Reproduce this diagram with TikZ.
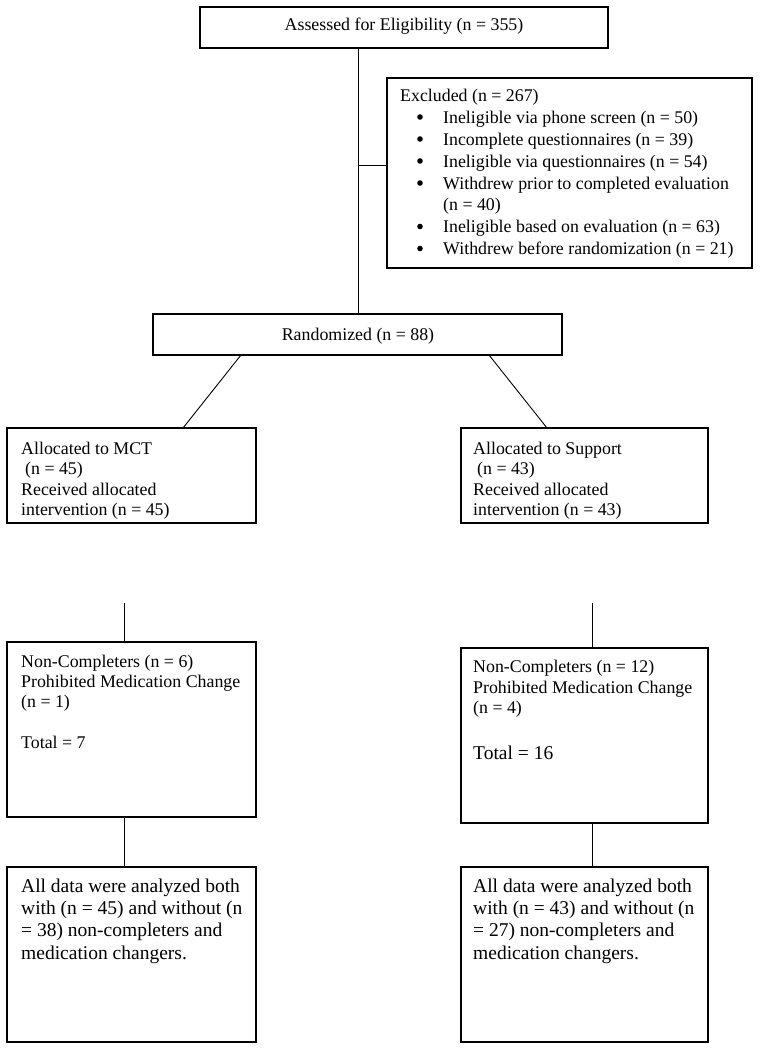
\documentclass[tikz,border=0pt]{standalone}
\usepackage{fontspec}
\setmainfont{Liberation Serif}
\begin{document}
\begin{tikzpicture}[x=1pt,y=-1pt,
  box/.style={draw, line width=1.1pt, inner sep=0pt, outer sep=0pt, anchor=north west},
  conn/.style={line width=0.9pt},
  tx/.style={anchor=base west, inner sep=0pt, font=\fontsize{17.85}{20}\selectfont},
  txl/.style={anchor=base west, inner sep=0pt, font=\fontsize{19.5}{22}\selectfont},
  txc/.style={anchor=base, inner sep=0pt, font=\fontsize{17.85}{20}\selectfont},
  bul/.style={circle, fill=black, inner sep=0pt, minimum size=5.6pt}]
\useasboundingbox (0,0) rectangle (760,1050);
% boxes
\node[box, minimum width=408pt, minimum height=41pt] (assess) at (200,7) {};
\node[box, minimum width=365pt, minimum height=190pt] (excl) at (387,78) {};
\node[box, minimum width=409pt, minimum height=41pt] (rand) at (153,314) {};
\node[box, minimum width=249pt, minimum height=95pt] (allocL) at (7,428) {};
\node[box, minimum width=247pt, minimum height=95pt] (allocR) at (461,428) {};
\node[box, minimum width=249pt, minimum height=175pt] (ncL) at (7,642) {};
\node[box, minimum width=247pt, minimum height=175pt] (ncR) at (461,648) {};
\node[box, minimum width=249pt, minimum height=175pt] (finL) at (7,867) {};
\node[box, minimum width=247pt, minimum height=175pt] (finR) at (461,867) {};
% texts
\node[txc] (tA) at (404,30) {Assessed for Eligibility (n = 355)};
\node[tx] (e0) at (400,101) {Excluded (n = 267)};
\node[bul] (b1) at (420,117) {};
\node[tx] (e1) at (443,123) {Ineligible via phone screen (n = 50)};
\node[bul] (b2) at (420,139) {};
\node[tx] (e2) at (443,145) {Incomplete questionnaires (n = 39)};
\node[bul] (b3) at (420,161) {};
\node[tx] (e3) at (443,167) {Ineligible via questionnaires (n = 54)};
\node[bul] (b4) at (420,183) {};
\node[tx] (e4) at (443,189) {Withdrew prior to completed evaluation};
\node[tx] (e5) at (443,210.5) {(n = 40)};
\node[bul] (b6) at (420,226.5) {};
\node[tx] (e6) at (443,232.5) {Ineligible based on evaluation (n = 63)};
\node[bul] (b7) at (420,248.5) {};
\node[tx] (e7) at (443,254.5) {Withdrew before randomization (n = 21)};
\node[txc] (tR) at (358,340) {Randomized (n = 88)};
\node[tx] (aL1) at (21,454) {Allocated to MCT};
\node[tx] (aL2) at (25,474.5) {(n = 45)};
\node[tx] (aL3) at (21,495) {Received allocated};
\node[tx] (aL4) at (21,515.5) {intervention (n = 45)};
\node[tx] (aR1) at (473,454) {Allocated to Support};
\node[tx] (aR2) at (477,474.5) {(n = 43)};
\node[tx] (aR3) at (473,495) {Received allocated};
\node[tx] (aR4) at (473,515.5) {intervention (n = 43)};
\node[tx] (nL1) at (21,667) {Non-Completers (n = 6)};
\node[tx] (nL2) at (21,687) {Prohibited Medication Change};
\node[tx] (nL3) at (21,707) {(n = 1)};
\node[tx] (nL4) at (21,748) {Total = 7};
\node[tx] (nR1) at (473,672) {Non-Completers (n = 12)};
\node[tx] (nR2) at (473,693) {Prohibited Medication Change};
\node[tx] (nR3) at (473,713) {(n = 4)};
\node[txl] (nR4) at (473,759) {Total = 16};
\node[txl] (fL1) at (21,892.5) {All data were analyzed both};
\node[txl] (fL2) at (21,914.5) {with (n = 45) and without (n};
\node[txl] (fL3) at (21,936.5) {= 38) non-completers and};
\node[txl] (fL4) at (21,959) {medication changers.};
\node[txl] (fR1) at (473,892.5) {All data were analyzed both};
\node[txl] (fR2) at (473,914.5) {with (n = 43) and without (n};
\node[txl] (fR3) at (473,936.5) {= 27) non-completers and};
\node[txl] (fR4) at (473,959) {medication changers.};
% connectors
\coordinate (br) at (358,165);
\coordinate (vl) at (124,603);
\coordinate (vr) at (592,603);
\draw[conn] (assess.south -| br) -- (rand.north -| br);
\draw[conn] (br) -- (br -| excl.west);
\draw[conn] ([xshift=88pt]rand.south west) -- ([xshift=176pt]allocL.north west);
\draw[conn] ([xshift=336pt]rand.south west) -- ([xshift=86pt]allocR.north west);
\draw[conn] (vl) -- (vl |- ncL.north);
\draw[conn] (vr) -- (vr |- ncR.north);
\draw[conn] (ncL.south -| vl) -- (finL.north -| vl);
\draw[conn] (ncR.south -| vr) -- (finR.north -| vr);
\end{tikzpicture}
\end{document}
